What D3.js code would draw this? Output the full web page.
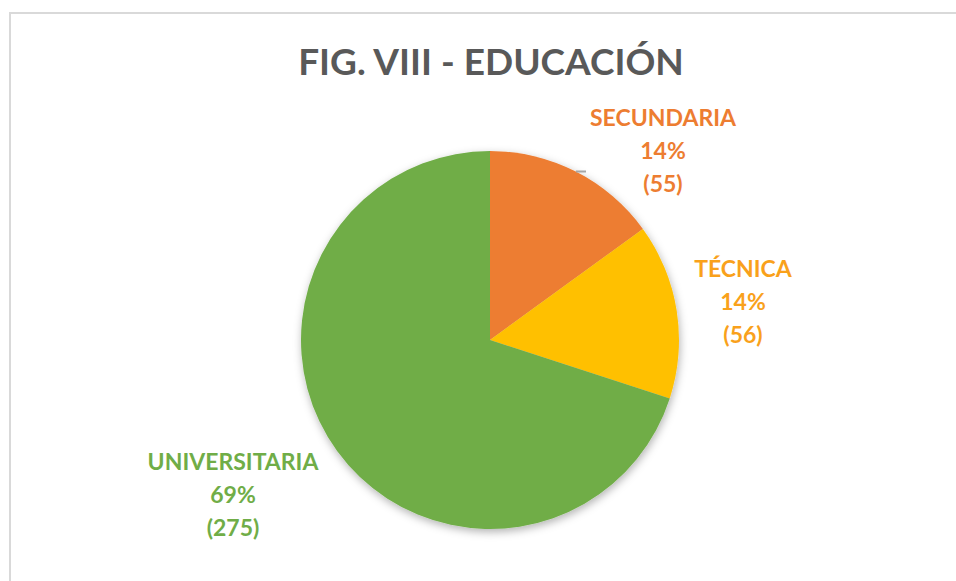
<!DOCTYPE html>
<html>
<head>
<meta charset="utf-8">
<script src="https://cdn.jsdelivr.net/npm/d3@7"></script>
<style>
  html, body { margin: 0; padding: 0; background: #fff; }
  svg { display: block; }
</style>
</head>
<body>
<div id="chart"></div>
<script>
// categories and counts as printed on the labels
const categories = ["SECUNDARIA", "TÉCNICA", "UNIVERSITARIA"];
const counts = [55, 56, 275];
const percentLabels = ["14%", "14%", "69%"];
// slice sizes (in %)
const sliceShares = [15, 15, 70];
const sliceColors = ["#ED7D31", "#FFC000", "#70AD47"];
const labelColors = ["#ED7D31", "#F9A11B", "#70AD47"];

const width = 956, height = 581;
const cx = 490, cy = 340, radius = 189;

const svg = d3.select("#chart").append("svg")
    .attr("width", width)
    .attr("height", height);

// soft shadow under the pie
const defs = svg.append("defs");
const shadow = defs.append("filter")
    .attr("id", "shadow")
    .attr("x", "-20%").attr("y", "-20%")
    .attr("width", "140%").attr("height", "140%");
shadow.append("feDropShadow")
    .attr("dx", 1).attr("dy", 3)
    .attr("stdDeviation", 4)
    .attr("flood-color", "#000")
    .attr("flood-opacity", 0.3);

// chart frame
svg.append("rect")
    .attr("x", 10).attr("y", 13)
    .attr("width", 960).attr("height", 600)
    .attr("fill", "none")
    .attr("stroke", "#d9d9d9")
    .attr("stroke-width", 2);

// title
svg.append("text")
    .attr("x", 491).attr("y", 75)
    .attr("text-anchor", "middle")
    .attr("font-family", "Lato, 'Open Sans', sans-serif")
    .attr("font-weight", "bold")
    .attr("font-size", 37)
    .attr("fill", "#595959")
    .text("FIG. VIII - EDUCACIÓN");

const pie = d3.pie().sort(null).value(d => d.share);
const arc = d3.arc().innerRadius(0).outerRadius(radius);

const rows = categories.map((c, i) => ({
    name: c, count: counts[i], pct: percentLabels[i],
    share: sliceShares[i], color: sliceColors[i], label: labelColors[i]
}));

const pieG = svg.append("g")
    .attr("transform", `translate(${cx},${cy})`);

pieG.append("g")
    .attr("filter", "url(#shadow)")
    .selectAll("path")
    .data(pie(rows))
    .join("path")
    .attr("d", arc)
    .attr("fill", d => d.data.color);

// leftover leader line stub near the secundaria label
svg.append("line")
    .attr("x1", 576).attr("x2", 586)
    .attr("y1", 171.5).attr("y2", 171.5)
    .attr("stroke", "#a6a6a6")
    .attr("stroke-width", 2);

// data labels (anchor = centre x, first baseline)
const labelPos = [[663, 126], [743, 277], [233, 470]];
const lineStep = 33;

rows.forEach((d, i) => {
    const t = svg.append("text")
        .attr("text-anchor", "middle")
        .attr("font-family", "Lato, 'Open Sans', sans-serif")
        .attr("font-weight", "bold")
        .attr("font-size", 23)
        .attr("fill", d.label);
    [d.name, d.pct, "(" + d.count + ")"].forEach((s, k) => {
        t.append("tspan")
            .attr("x", labelPos[i][0])
            .attr("y", labelPos[i][1] + k * lineStep)
            .text(s);
    });
});
</script>
</body>
</html>
